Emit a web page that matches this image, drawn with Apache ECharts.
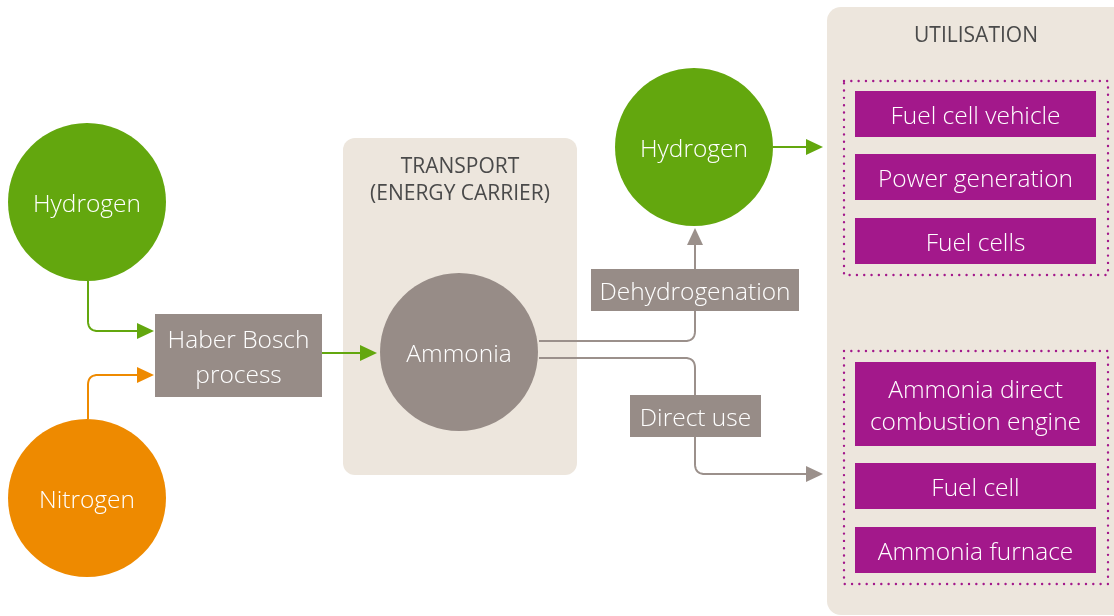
<!DOCTYPE html>
<html>
<head>
<meta charset="utf-8">
<script src="https://cdn.jsdelivr.net/npm/echarts@6/dist/echarts.min.js"></script>
<style>html,body{margin:0;padding:0;background:#fff}#c{width:1114px;height:616px}</style>
</head>
<body>
<div id="c"></div>
<script>
// ---- content ----
const sourceNodes = ['Hydrogen', 'Nitrogen'];
const processLabel = ['Haber Bosch', 'process'];
const carrierTitle = ['TRANSPORT', '(ENERGY CARRIER)'];
const carrierNode = 'Ammonia';
const pathways = ['Dehydrogenation', 'Direct use'];
const hydrogenProduct = 'Hydrogen';
const utilisationTitle = 'UTILISATION';
const hydrogenUses = ['Fuel cell vehicle', 'Power generation', 'Fuel cells'];
const ammoniaUses = ['Ammonia direct\ncombustion engine', 'Fuel cell', 'Ammonia furnace'];

// ---- styling / layout ----
const C = {
  green: '#63a70e', orange: '#ee8a00', gray: '#978c87', beige: '#ede6dd',
  magenta: '#a3188b', line: '#9b908b', title: '#4a4a4a'
};
const FONT = '"Open Sans", Lato, sans-serif';
const DY = 3; // baseline nudge for label text

function circle(cx, cy, r, fill, label) {
  return [
    { type: 'circle', shape: { cx, cy, r }, style: { fill } },
    { type: 'text', x: cx, y: cy + DY, style: { text: label, fill: '#fff', font: '300 24.5px ' + FONT, align: 'center', verticalAlign: 'middle' } }
  ];
}
function box(x, y, w, h, fill, label, size, lh) {
  return [
    { type: 'rect', shape: { x, y, width: w, height: h }, style: { fill } },
    { type: 'text', x: x + w / 2, y: y + h / 2 + DY, style: { text: label, fill: '#fff', font: '300 ' + (size || 24.5) + 'px ' + FONT, lineHeight: lh || 32, align: 'center', verticalAlign: 'middle' } }
  ];
}
// orthogonal polyline with rounded corners
function rounded(pts, r) {
  const out = [pts[0]];
  for (let i = 1; i < pts.length - 1; i++) {
    const p0 = pts[i - 1], p = pts[i], p1 = pts[i + 1];
    const d0 = [Math.sign(p[0] - p0[0]), Math.sign(p[1] - p0[1])];
    const d1 = [Math.sign(p1[0] - p[0]), Math.sign(p1[1] - p[1])];
    const a = [p[0] - d0[0] * r, p[1] - d0[1] * r];
    const b = [p[0] + d1[0] * r, p[1] + d1[1] * r];
    for (let k = 0; k <= 10; k++) {
      const t = k / 10;
      out.push([
        (1 - t) * (1 - t) * a[0] + 2 * (1 - t) * t * p[0] + t * t * b[0],
        (1 - t) * (1 - t) * a[1] + 2 * (1 - t) * t * p[1] + t * t * b[1]
      ]);
    }
  }
  out.push(pts[pts.length - 1]);
  return out;
}
function line(pts, color, r) {
  return { type: 'polyline', shape: { points: rounded(pts, r || 10) }, style: { fill: null, stroke: color, lineWidth: 2 } };
}
function tri(pts, color) {
  return { type: 'polygon', shape: { points: pts }, style: { fill: color } };
}
function dotted(x, y, w, h) {
  return { type: 'rect', shape: { x, y, width: w, height: h }, style: { fill: null, stroke: C.magenta, lineWidth: 2.4, lineDash: [0.01, 7.3], lineCap: 'round' } };
}

const els = [];
// background panels
els.push({ type: 'rect', shape: { x: 343, y: 138, width: 234, height: 337, r: 12 }, style: { fill: C.beige } });
els.push({ type: 'rect', shape: { x: 827, y: 7, width: 310, height: 608, r: 14 }, style: { fill: C.beige } });
const titleFont = '21px ' + FONT;
els.push({ type: 'text', x: 460, y: 167, style: { text: carrierTitle[0], fill: C.title, font: titleFont, align: 'center', verticalAlign: 'middle' } });
els.push({ type: 'text', x: 460, y: 194, style: { text: carrierTitle[1], fill: C.title, font: titleFont, align: 'center', verticalAlign: 'middle' } });
els.push({ type: 'text', x: 976, y: 36, style: { text: utilisationTitle, fill: C.title, font: titleFont, align: 'center', verticalAlign: 'middle' } });

// connectors
els.push(line([[88, 281], [88, 331], [139, 331]], C.green));
els.push(tri([[137, 323], [154, 331], [137, 339]], C.green));
els.push(line([[88, 419], [88, 375], [139, 375]], C.orange));
els.push(tri([[137, 367], [154, 375], [137, 383]], C.orange));
els.push(line([[322, 353], [362, 353]], C.green));
els.push(tri([[360, 345], [377, 353], [360, 361]], C.green));
els.push(line([[539, 341], [695, 341], [695, 300]], C.line));
els.push(line([[695, 275], [695, 243]], C.line));
els.push(tri([[687, 245], [695, 228], [703, 245]], C.line));
els.push(line([[539, 358], [695, 358], [695, 420]], C.line));
els.push(line([[695, 420], [695, 474], [808, 474]], C.line));
els.push(tri([[806, 466], [823, 474], [806, 482]], C.line));
els.push(line([[773, 147], [808, 147]], C.green));
els.push(tri([[806, 139], [823, 147], [806, 155]], C.green));

// nodes
els.push(...circle(87, 202, 79, C.green, sourceNodes[0]));
els.push(...circle(87, 498, 79, C.orange, sourceNodes[1]));
els.push(...box(155, 314, 167, 83, C.gray, processLabel.join('\n'), 24.5, 35));
els.push(...circle(459, 352, 79, C.gray, carrierNode));
els.push(...circle(694, 147, 79, C.green, hydrogenProduct));
els.push(...box(591, 269, 208, 42, C.gray, pathways[0]));
els.push(...box(630, 395, 131, 42, C.gray, pathways[1]));

// utilisation groups
els.push(dotted(844, 81, 264, 194));
const hy = [91, 154, 218];
hydrogenUses.forEach((t, i) => els.push(...box(855, hy[i], 241, 46, C.magenta, t)));
els.push(dotted(844, 351, 264, 233));
const ay = [362, 463, 527], ah = [84, 46, 46];
ammoniaUses.forEach((t, i) => els.push(...box(855, ay[i], 241, ah[i], C.magenta, t, 24.5, 32)));

const chart = echarts.init(document.getElementById('c'), null, { renderer: 'canvas' });
chart.setOption({ backgroundColor: '#ffffff', animation: false, graphic: { elements: els } });
</script>
</body>
</html>
